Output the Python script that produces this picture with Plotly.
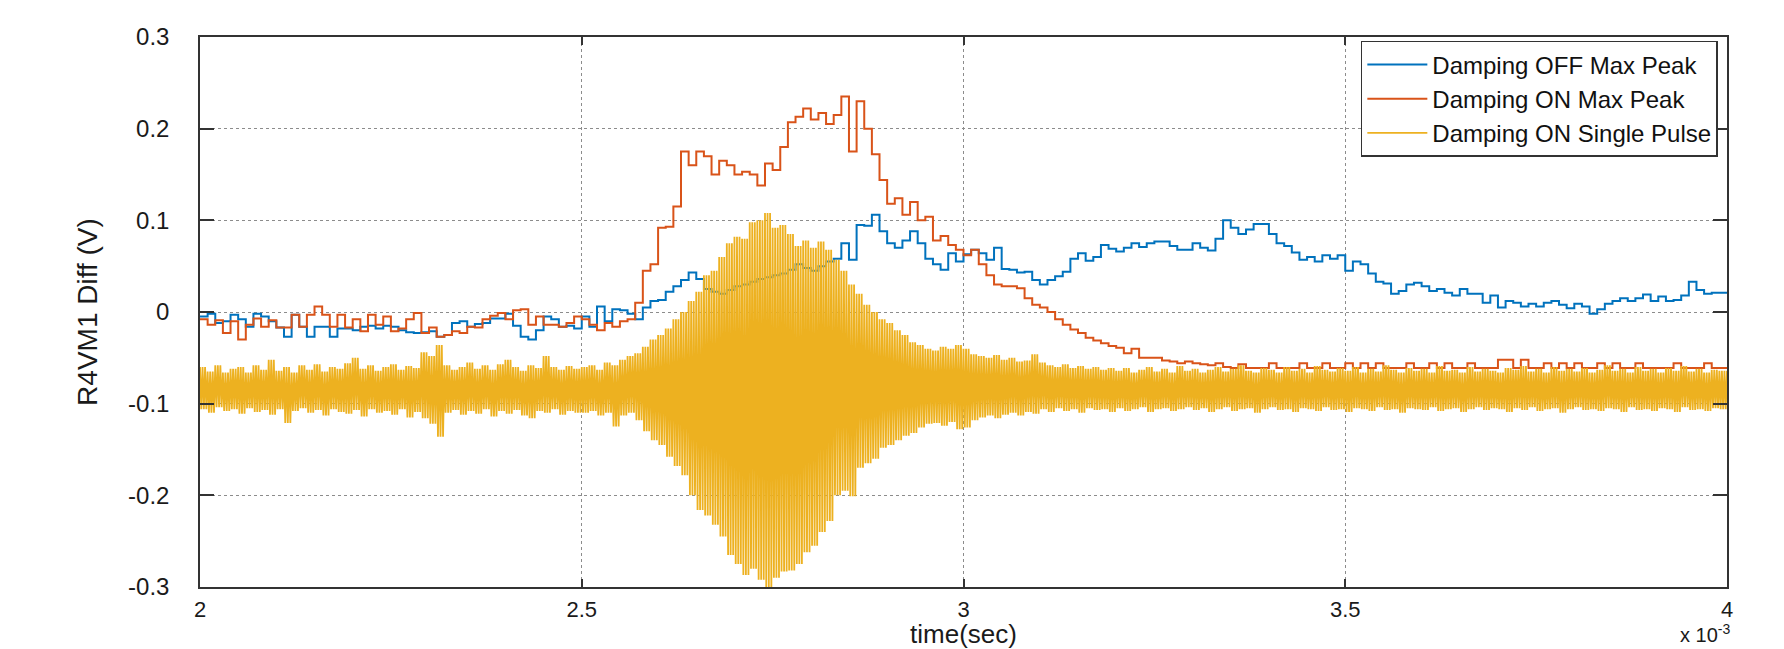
import numpy as np
import plotly.graph_objects as go

# ---------------- data (time in units of 1e-3 s) ----------------
t_start_ms = 2.00
t_step_ms = 0.01

series_names = ["Damping OFF Max Peak", "Damping ON Max Peak", "Damping ON Single Pulse"]

damping_off_max_peak = [
    -0.005, -0.002, -0.012, -0.010, -0.003, -0.008, -0.016, -0.002, -0.005, -0.010,
    -0.017, -0.027, -0.003, -0.016, -0.027, -0.016, -0.016, -0.027, -0.018, -0.018,
    -0.020, -0.016, -0.015, -0.018, -0.015, -0.016, -0.020, -0.022, -0.023, -0.022,
    -0.021, -0.027, -0.025, -0.012, -0.010, -0.016, -0.013, -0.012, -0.007, -0.007,
    -0.002, -0.015, -0.027, -0.030, -0.020, -0.005, -0.008, -0.016, -0.015, -0.018,
    -0.005, -0.016, 0.006, -0.010, 0.003, 0.002, -0.002, -0.008, 0.005, 0.012,
    0.013, 0.022, 0.028, 0.035, 0.043, 0.036, 0.025, 0.022, 0.020, 0.024,
    0.028, 0.030, 0.033, 0.036, 0.038, 0.040, 0.042, 0.046, 0.052, 0.048,
    0.045, 0.050, 0.055, 0.058, 0.075, 0.057, 0.095, 0.094, 0.106, 0.088,
    0.075, 0.070, 0.078, 0.088, 0.075, 0.058, 0.052, 0.046, 0.064, 0.055,
    0.063, 0.068, 0.064, 0.057, 0.070, 0.047, 0.046, 0.043, 0.044, 0.035,
    0.030, 0.035, 0.039, 0.044, 0.058, 0.064, 0.056, 0.060, 0.073, 0.069,
    0.066, 0.070, 0.075, 0.071, 0.075, 0.077, 0.077, 0.072, 0.068, 0.068,
    0.075, 0.070, 0.067, 0.080, 0.100, 0.092, 0.085, 0.090, 0.096, 0.096,
    0.085, 0.075, 0.072, 0.065, 0.057, 0.060, 0.055, 0.062, 0.058, 0.062,
    0.045, 0.055, 0.052, 0.042, 0.033, 0.031, 0.020, 0.023, 0.030, 0.032,
    0.028, 0.023, 0.025, 0.021, 0.018, 0.025, 0.020, 0.020, 0.010, 0.018,
    0.005, 0.012, 0.010, 0.006, 0.009, 0.006, 0.010, 0.012, 0.008, 0.004,
    0.009, 0.006, -0.002, 0.003, 0.009, 0.012, 0.015, 0.012, 0.015, 0.019,
    0.012, 0.017, 0.012, 0.013, 0.018, 0.033, 0.024, 0.020, 0.021, 0.021,
]

damping_on_max_peak = [
    -0.008, -0.014, -0.009, -0.023, -0.010, -0.030, -0.014, -0.007, -0.016, -0.009,
    -0.017, -0.017, -0.003, -0.016, -0.003, 0.006, -0.003, -0.016, -0.003, -0.017,
    -0.008, -0.021, -0.003, -0.014, -0.005, -0.021, -0.018, -0.008, -0.001, -0.023,
    -0.017, -0.027, -0.025, -0.021, -0.023, -0.016, -0.017, -0.008, -0.004, -0.001,
    -0.008, 0.002, 0.003, -0.014, -0.005, -0.014, -0.014, -0.016, -0.012, -0.005,
    -0.008, -0.014, -0.020, -0.012, -0.016, -0.010, -0.008, 0.010, 0.045, 0.052,
    0.092, 0.093, 0.115, 0.175, 0.160, 0.175, 0.170, 0.150, 0.165, 0.160,
    0.150, 0.153, 0.150, 0.138, 0.162, 0.155, 0.180, 0.207, 0.213, 0.222,
    0.210, 0.217, 0.205, 0.215, 0.235, 0.175, 0.230, 0.200, 0.172, 0.144,
    0.118, 0.124, 0.106, 0.120, 0.100, 0.104, 0.078, 0.083, 0.073, 0.068,
    0.062, 0.068, 0.052, 0.040, 0.030, 0.028, 0.028, 0.026, 0.015, 0.008,
    0.005, 0.000, -0.008, -0.014, -0.019, -0.023, -0.028, -0.031, -0.034, -0.037,
    -0.039, -0.045, -0.040, -0.050, -0.050, -0.050, -0.053, -0.054, -0.056, -0.054,
    -0.056, -0.057, -0.058, -0.056, -0.060, -0.061, -0.057, -0.061, -0.061, -0.061,
    -0.056, -0.061, -0.061, -0.061, -0.056, -0.061, -0.061, -0.056, -0.061, -0.061,
    -0.056, -0.061, -0.056, -0.061, -0.056, -0.061, -0.061, -0.061, -0.056, -0.061,
    -0.061, -0.056, -0.061, -0.056, -0.061, -0.061, -0.056, -0.061, -0.061, -0.061,
    -0.052, -0.052, -0.061, -0.052, -0.061, -0.061, -0.056, -0.061, -0.056, -0.061,
    -0.056, -0.061, -0.061, -0.056, -0.061, -0.056, -0.061, -0.061, -0.056, -0.061,
    -0.061, -0.061, -0.061, -0.056, -0.061, -0.061, -0.061, -0.056, -0.061, -0.061,
]

# single pulse: upper / lower extremes of the oscillation in each sample window
single_pulse_hi = [
    -0.060, -0.065, -0.058, -0.066, -0.062, -0.060, -0.066, -0.058, -0.063, -0.052,
    -0.064, -0.060, -0.066, -0.058, -0.063, -0.057, -0.065, -0.060, -0.062, -0.056,
    -0.050, -0.062, -0.058, -0.064, -0.060, -0.057, -0.063, -0.059, -0.061, -0.044,
    -0.048, -0.036, -0.058, -0.063, -0.060, -0.055, -0.062, -0.058, -0.063, -0.057,
    -0.052, -0.060, -0.064, -0.058, -0.061, -0.048, -0.060, -0.063, -0.059, -0.062,
    -0.060, -0.058, -0.063, -0.055, -0.058, -0.052, -0.048, -0.045, -0.038, -0.030,
    -0.025, -0.018, -0.008, 0.000, 0.012, 0.022, 0.040, 0.045, 0.060, 0.075,
    0.082, 0.080, 0.098, 0.100, 0.108, 0.092, 0.095, 0.085, 0.072, 0.078,
    0.070, 0.077, 0.068, 0.057, 0.045, 0.030, 0.020, 0.008, 0.000, -0.008,
    -0.012, -0.020, -0.025, -0.033, -0.036, -0.040, -0.042, -0.038, -0.040, -0.036,
    -0.040, -0.046, -0.048, -0.050, -0.047, -0.052, -0.050, -0.054, -0.053, -0.046,
    -0.055, -0.058, -0.060, -0.057, -0.061, -0.059, -0.062, -0.060, -0.063, -0.061,
    -0.064, -0.061, -0.066, -0.063, -0.060, -0.065, -0.062, -0.066, -0.059, -0.064,
    -0.062, -0.066, -0.063, -0.060, -0.065, -0.062, -0.058, -0.064, -0.066, -0.061,
    -0.063, -0.066, -0.060, -0.064, -0.062, -0.066, -0.059, -0.063, -0.065, -0.061,
    -0.064, -0.060, -0.066, -0.062, -0.065, -0.058, -0.063, -0.066, -0.061, -0.064,
    -0.062, -0.066, -0.059, -0.064, -0.063, -0.066, -0.060, -0.065, -0.062, -0.064,
    -0.066, -0.061, -0.063, -0.059, -0.065, -0.062, -0.066, -0.060, -0.064, -0.062,
    -0.065, -0.061, -0.066, -0.063, -0.058, -0.064, -0.062, -0.066, -0.060, -0.064,
    -0.062, -0.066, -0.061, -0.064, -0.059, -0.065, -0.062, -0.066, -0.063, -0.064,
]

single_pulse_lo = [
    -0.106, -0.110, -0.104, -0.108, -0.106, -0.111, -0.105, -0.109, -0.107, -0.112,
    -0.106, -0.121, -0.108, -0.105, -0.110, -0.107, -0.113, -0.106, -0.109, -0.111,
    -0.107, -0.114, -0.106, -0.110, -0.108, -0.112, -0.106, -0.115, -0.109, -0.116,
    -0.122, -0.136, -0.110, -0.107, -0.112, -0.108, -0.111, -0.106, -0.114, -0.108,
    -0.111, -0.107, -0.113, -0.116, -0.108, -0.110, -0.106, -0.112, -0.108, -0.110,
    -0.110, -0.108, -0.113, -0.110, -0.125, -0.113, -0.110, -0.118, -0.130, -0.140,
    -0.145, -0.158, -0.168, -0.178, -0.200, -0.216, -0.222, -0.232, -0.245, -0.265,
    -0.275, -0.287, -0.280, -0.292, -0.300, -0.290, -0.283, -0.282, -0.275, -0.262,
    -0.255, -0.240, -0.228, -0.200, -0.195, -0.201, -0.170, -0.165, -0.160, -0.148,
    -0.145, -0.140, -0.135, -0.132, -0.126, -0.122, -0.121, -0.124, -0.120, -0.128,
    -0.126, -0.118, -0.115, -0.113, -0.116, -0.112, -0.110, -0.113, -0.109, -0.111,
    -0.106, -0.109, -0.105, -0.108, -0.106, -0.110, -0.105, -0.107, -0.106, -0.109,
    -0.105, -0.108, -0.106, -0.104, -0.109, -0.106, -0.105, -0.108, -0.106, -0.104,
    -0.107, -0.105, -0.109, -0.106, -0.104, -0.108, -0.106, -0.105, -0.110, -0.106,
    -0.104, -0.107, -0.106, -0.109, -0.105, -0.106, -0.108, -0.104, -0.107, -0.106,
    -0.109, -0.105, -0.106, -0.108, -0.104, -0.107, -0.106, -0.110, -0.105, -0.106,
    -0.107, -0.104, -0.108, -0.106, -0.105, -0.109, -0.106, -0.104, -0.107, -0.105,
    -0.106, -0.109, -0.105, -0.107, -0.104, -0.108, -0.106, -0.105, -0.110, -0.106,
    -0.104, -0.107, -0.106, -0.108, -0.105, -0.106, -0.109, -0.104, -0.107, -0.106,
    -0.108, -0.105, -0.106, -0.109, -0.104, -0.107, -0.106, -0.108, -0.105, -0.106,
]

x_tick_vals = [2, 2.5, 3, 3.5, 4]
x_tick_text = ["2", "2.5", "3", "3.5", "4"]
y_tick_vals = [-0.3, -0.2, -0.1, 0, 0.1, 0.2, 0.3]
y_tick_text = ["-0.3", "-0.2", "-0.1", "0", "0.1", "0.2", "0.3"]

colors = ["#0072BD", "#D95319", "#EDB120"]
FONT = "Liberation Sans, Arial, Helvetica, sans-serif"

# ---------------- build traces ----------------
n = len(damping_off_max_peak)
t = t_start_ms + t_step_ms * np.arange(n)
t_stairs = np.append(t, t[-1] + t_step_ms)
blue_y = damping_off_max_peak + [damping_off_max_peak[-1]]
red_y = damping_on_max_peak + [damping_on_max_peak[-1]]

# carrier oscillation: swings between the read extremes in each window
swings = 3
yx, yy = [], []
for k in range(n):
    for c in range(swings):
        base = t[k] + c * t_step_ms / swings
        yx += [base, base + t_step_ms / (2 * swings)]
        yy += [single_pulse_hi[k], single_pulse_lo[k]]
yx.append(t[-1] + t_step_ms)
yy.append(single_pulse_hi[-1])

fig = go.Figure()
fig.add_trace(go.Scatter(x=t_stairs, y=blue_y, mode="lines", line_shape="hv",
                         line=dict(color=colors[0], width=2), name=series_names[0]))
fig.add_trace(go.Scatter(x=t_stairs, y=red_y, mode="lines", line_shape="hv",
                         line=dict(color=colors[1], width=2), name=series_names[1]))
fig.add_trace(go.Scatter(x=yx, y=yy, mode="lines",
                         line=dict(color=colors[2], width=1.8, simplify=False),
                         name=series_names[2]))

axis_common = dict(
    showline=True, linecolor="#333333", linewidth=1.5, mirror="ticks",
    ticks="inside", tickcolor="#333333", tickwidth=1.5,
    showgrid=True, gridcolor="#8c8c8c", griddash="dot", gridwidth=1,
    zeroline=False, automargin=False,
)

fig.update_layout(
    width=1784, height=649,
    margin=dict(l=200, r=57, t=37, b=62),
    paper_bgcolor="white", plot_bgcolor="white",
    font=dict(family=FONT, color="#1a1a1a"),
    showlegend=True,
    legend=dict(
        x=0.994, xanchor="right", y=0.993, yanchor="top",
        bgcolor="white", bordercolor="#333333", borderwidth=1.5,
        font=dict(family=FONT, size=24, color="#111111"),
        tracegroupgap=0, itemwidth=60,
    ),
    xaxis=dict(
        range=[2, 4], tickvals=x_tick_vals, ticktext=x_tick_text,
        ticklen=8, ticklabelstandoff=2, tickfont=dict(size=22, family=FONT),
        title=dict(text="time(sec)", font=dict(size=26, family=FONT), standoff=4),
        **axis_common,
    ),
    yaxis=dict(
        range=[-0.3, 0.3], tickvals=y_tick_vals, ticktext=y_tick_text,
        ticklen=14, ticklabelstandoff=24, tickfont=dict(size=24, family=FONT),
        title=dict(text="R4VM1 Diff (V)", font=dict(size=28, family=FONT), standoff=22),
        **axis_common,
    ),
    annotations=[dict(
        text="x 10<sup>-3</sup>", xref="paper", yref="paper",
        x=1.003, xanchor="right", y=-0.084, yanchor="middle",
        showarrow=False, font=dict(size=20, family=FONT, color="#1a1a1a"),
    )],
)

fig.write_html("out.html")
